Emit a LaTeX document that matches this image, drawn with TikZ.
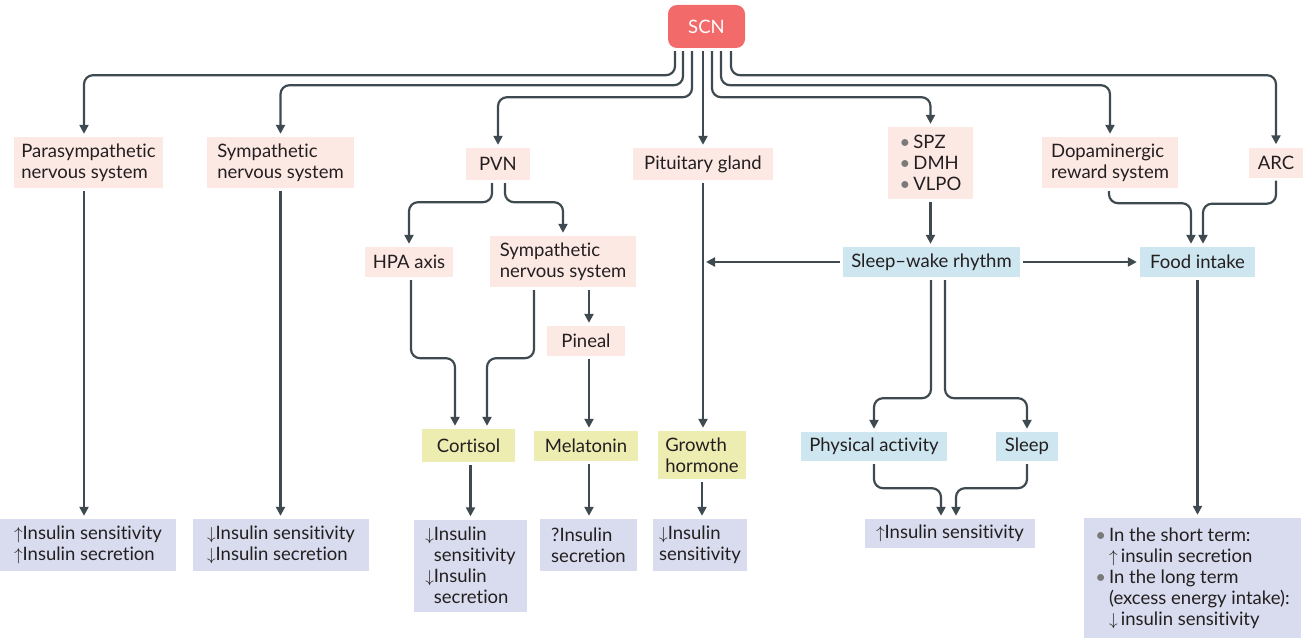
\documentclass[tikz,border=0pt]{standalone}
\usepackage{fontspec}
\setmainfont{Lato}[Ligatures=NoCommon]
\usetikzlibrary{arrows.meta}
\definecolor{scnred}{HTML}{F26A6A}
\definecolor{pinkbg}{HTML}{FDE9E4}
\definecolor{bluebg}{HTML}{CDE6F0}
\definecolor{yellowbg}{HTML}{EDEDB1}
\definecolor{lavbg}{HTML}{D9DCEE}
\definecolor{lc}{HTML}{3E4A50}
\definecolor{txt}{HTML}{231F20}
\definecolor{bulgray}{HTML}{7A7A7A}
\newcommand{\bul}{\textcolor{bulgray}{•}}
\newcommand{\up}{$\uparrow$}
\newcommand{\dn}{$\downarrow$}
\begin{document}
\begin{tikzpicture}[x=1pt,y=-1pt,
  font=\fontsize{18.5pt}{21pt}\selectfont,
  bx/.style={fill=#1, draw=none, inner sep=0pt, align=left, text=txt},
  conn/.style={draw=lc, line width=2.2pt, rounded corners=9pt,
    -{Triangle[length=9pt,width=9pt]}, shorten >=3pt, shorten <=3pt}]
\fill[white] (0,0) rectangle (1307,642);
\useasboundingbox (0,0) rectangle (1307,642);

% nodes
\node[fill=scnred, rounded corners=9pt, text=white, minimum width=77pt, minimum height=43pt, inner sep=0pt] (scn) at (706.5,26.5) {SCN};
\node[bx=pinkbg, minimum width=149pt, minimum height=51pt] (para) at (88.5,162.5) {Parasympathetic\\nervous system};
\node[bx=pinkbg, minimum width=147pt, minimum height=51pt] (symp) at (280.5,162.5) {Sympathetic\\nervous system};
\node[bx=pinkbg, minimum width=64pt, minimum height=32pt] (pvn) at (498,164) {PVN};
\node[bx=pinkbg, minimum width=140pt, minimum height=32pt] (pit) at (703,164) {Pituitary gland};
\node[bx=pinkbg, minimum width=85pt, minimum height=72pt] (spz) at (930.5,163) {\bul\,SPZ\\\bul\,DMH\\\bul\,VLPO};
\node[bx=pinkbg, minimum width=136pt, minimum height=51pt] (dopa) at (1110,162.5) {Dopaminergic\\reward system};
\node[bx=pinkbg, minimum width=54pt, minimum height=30pt] (arc) at (1276,162.5) {ARC};

\node[bx=pinkbg, minimum width=88pt, minimum height=30pt] (hpa) at (409,262) {HPA axis};
\node[bx=pinkbg, minimum width=146pt, minimum height=51pt] (symp2) at (563,261.5) {Sympathetic\\nervous system};
\node[bx=pinkbg, minimum width=78pt, minimum height=30pt] (pineal) at (586,341) {Pineal};
\node[bx=bluebg, minimum width=177pt, minimum height=30pt] (sw) at (931.5,262) {Sleep–wake rhythm};
\node[bx=bluebg, minimum width=115pt, minimum height=30pt] (food) at (1197.5,262) {Food intake};

\node[bx=yellowbg, minimum width=93pt, minimum height=33pt] (cort) at (468.5,445.5) {Cortisol};
\node[bx=yellowbg, minimum width=104pt, minimum height=30pt] (mel) at (586,446) {Melatonin};
\node[bx=yellowbg, minimum width=88pt, minimum height=48pt] (gh) at (702,455) {Growth\\hormone};
\node[bx=bluebg, minimum width=146pt, minimum height=29pt] (phys) at (874,446.5) {Physical activity};
\node[bx=bluebg, minimum width=62pt, minimum height=29pt] (sleep) at (1027,446.5) {Sleep};

\node[bx=lavbg, minimum width=176pt, minimum height=52pt] (r1) at (88,545) {\up Insulin sensitivity\\\up Insulin secretion};
\node[bx=lavbg, minimum width=176pt, minimum height=52pt] (r2) at (281,545) {\dn Insulin sensitivity\\\dn Insulin secretion};
\node[bx=lavbg, minimum width=113pt, minimum height=92pt] (r3) at (470.5,565.5) {\dn Insulin\\\hphantom{\dn}sensitivity\\\dn Insulin\\\hphantom{\dn}secretion};
\node[bx=lavbg, minimum width=97pt, minimum height=52pt] (r4) at (588.5,545) {?Insulin\\secretion};
\node[bx=lavbg, minimum width=94pt, minimum height=52pt] (r5) at (700,545) {\dn Insulin\\sensitivity};
\node[bx=lavbg, minimum width=170pt, minimum height=29pt] (r6) at (950,533.5) {\up Insulin sensitivity};
\node[bx=lavbg, minimum width=217pt, minimum height=120pt] (r7) at (1192.5,578) {\bul\,In the short term:\\\hphantom{\bul\,}\up\,insulin secretion\\\bul\,In the long term\\\hphantom{\bul\,}(excess energy intake):\\\hphantom{\bul\,}\dn\,insulin sensitivity};

% SCN fan-out
\draw[conn] ([xshift=-31.5pt]scn.south) -- ++(0,27) -| ([xshift=-4.5pt]para.north);
\draw[conn] ([xshift=-23.5pt]scn.south) -- ++(0,37) -| (symp.north);
\draw[conn] ([xshift=-14.5pt]scn.south) -- ++(0,49) -| (pvn.north);
\draw[conn] (scn.south -| pit.north) -- (pit.north);
\draw[conn] ([xshift=5.5pt]scn.south) -- ++(0,49) -| (spz.north);
\draw[conn] ([xshift=14.5pt]scn.south) -- ++(0,37) -| (dopa.north);
\draw[conn] ([xshift=24.5pt]scn.south) -- ++(0,27) -| (arc.north);

% left columns
\draw[conn] ([xshift=-4.5pt]para.south) -- ([xshift=-4pt]r1.north);
\draw[conn] (symp.south) -- (symp.south |- r2.north);

% PVN branch
\draw[conn] ([xshift=-6pt]pvn.south) -- ++(0,22) -| (hpa.north);
\draw[conn] ([xshift=7pt]pvn.south) -- ++(0,22) -| (symp2.north);
\draw[conn] ([xshift=3pt]pineal.north |- symp2.south) -- ([xshift=3pt]pineal.north);
\draw[conn] ([xshift=2pt]hpa.south) -- ++(0,81) -| ([xshift=-13.5pt]cort.north);
\draw[conn] ([xshift=-29pt]symp2.south) -- ++(0,71) -| ([xshift=18.5pt]cort.north);
\draw[conn] ([xshift=3pt]pineal.south) -- ([xshift=3pt]mel.north);
\draw[conn] (cort.south -| r3.north) -- (r3.north);
\draw[conn] ([xshift=3pt]mel.south) -- ([xshift=0.5pt]r4.north);

% pituitary
\draw[conn] (pit.south) -- (pit.south |- gh.north);
\draw[conn] (gh.south) -- (gh.south |- r5.north);

% sleep-wake
\draw[conn] (spz.south) -- (spz.south |- sw.north);
\draw[conn] (sw.west) -- (sw.west -| pit.south);
\draw[conn] (sw.east) -- (food.west);
\draw[conn] ([xshift=-0.5pt]sw.south) -- ++(0,121) -| (phys.north);
\draw[conn] ([xshift=13.5pt]sw.south) -- ++(0,121) -| (sleep.north);
\draw[conn] (phys.south) -- ++(0,27) -| ([xshift=-9pt]r6.north);
\draw[conn] (sleep.south) -- ++(0,27) -| ([xshift=6pt]r6.north);

% food intake
\draw[conn] ([xshift=-1pt]dopa.south) -- ++(0,15) -| ([xshift=-6.5pt]food.north);
\draw[conn] (arc.south) -- ++(0,26) -| ([xshift=5.5pt]food.north);
\draw[conn] (food.south) -- (food.south |- r7.north);
\end{tikzpicture}
\end{document}
